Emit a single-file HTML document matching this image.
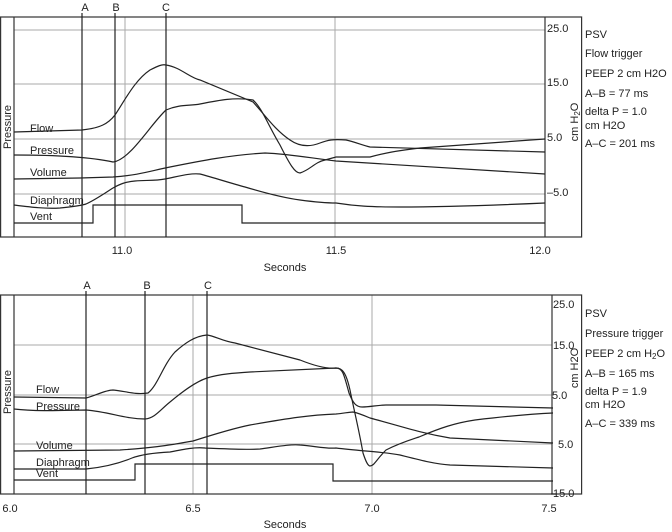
<!DOCTYPE html>
<html><head><meta charset="utf-8"><style>
body{margin:0;background:#fff;}
svg{display:block;font-family:"Liberation Sans",sans-serif;font-size:11px;fill:#222;}
.g{stroke:#aaa;stroke-width:1;fill:none}
.c{stroke:#222;stroke-width:1.2;fill:none}
.b{stroke:#333;stroke-width:1.2;fill:none}
</style></head><body>
<svg width="672" height="532" viewBox="0 0 672 532">
<!-- TOP PANEL -->
<line class="g" x1="14" y1="30" x2="545" y2="30"/>
<line class="g" x1="14" y1="84" x2="545" y2="84"/>
<line class="g" x1="14" y1="139" x2="545" y2="139"/>
<line class="g" x1="14" y1="194" x2="545" y2="194"/>
<line class="g" x1="125" y1="17" x2="125" y2="237"/>
<line class="g" x1="335" y1="17" x2="335" y2="237"/>
<rect class="b" x="0.6" y="17" width="581" height="220"/>
<line class="b" x1="14" y1="17" x2="14" y2="237"/>
<line class="b" x1="545" y1="17" x2="545" y2="237"/>
<text transform="translate(11,127) rotate(-90)" text-anchor="middle">Pressure</text>
<g class="c">
<line x1="82" y1="13" x2="82" y2="237"/><line x1="115" y1="13" x2="115" y2="237"/><line x1="166" y1="13" x2="166" y2="237"/>
<path d="M14,132 L82,130 C100,128 108,124 115,115 C125,100 135,80 150,70 C158,66 162,64 166,65 C180,67 190,78 200,80 L253,102 C265,115 275,130 290,140 C300,147 310,147 320,143 C328,140 333,139 346,140 C355,142 362,145 370,147 L545,152"/>
<path d="M14,155 C60,155 90,157 113,162 C130,160 150,125 166,110 C180,104 190,106 200,104 C220,100 235,97 253,100 C262,108 268,125 280,145 C290,165 295,173 300,173 C310,170 315,162 325,160 L336,157 L370,157 C385,153 395,151 420,148 L545,139"/>
<path d="M14,179 L80,178 L113,177 C140,175 150,171 170,167 C200,161 230,155 265,153 C290,154 310,158 336,161 L545,174"/>
<path d="M14,205 C30,207 45,209 60,208 C70,207 80,206 86,204 C95,200 105,193 113,188 C120,184 125,182 135,181 C145,180 155,181 165,179 C180,176 190,173 200,174 C215,178 230,183 245,187 C265,193 285,198 300,200 C315,202 325,203 336,203 C355,206 370,207 400,207 C450,207 500,205 545,203"/>
<path d="M14,223 L93,223 L93,205 L242,205 L242,223 L545,223"/>
</g>
<text x="30" y="132">Flow</text>
<text x="30" y="154">Pressure</text>
<text x="30" y="176">Volume</text>
<text x="30" y="204">Diaphragm</text>
<text x="30" y="220">Vent</text>
<text x="85" y="11" text-anchor="middle">A</text>
<text x="116" y="11" text-anchor="middle">B</text>
<text x="166" y="11" text-anchor="middle">C</text>
<text x="547" y="32">25.0</text>
<text x="547" y="86">15.0</text>
<text x="547" y="141">5.0</text>
<text x="547" y="196">–5.0</text>
<text transform="translate(578,122) rotate(-90)" text-anchor="middle">cm H<tspan font-size="8" dy="2">2</tspan><tspan dy="-2">O</tspan></text>
<text x="585" y="38">PSV</text>
<text x="585" y="57">Flow trigger</text>
<text x="585" y="77">PEEP 2 cm H2O</text>
<text x="585" y="97">A–B = 77 ms</text>
<text x="585" y="115">delta P = 1.0</text>
<text x="585" y="129">cm H2O</text>
<text x="585" y="147">A–C = 201 ms</text>
<text x="122" y="254" text-anchor="middle">11.0</text>
<text x="336" y="254" text-anchor="middle">11.5</text>
<text x="540" y="254" text-anchor="middle">12.0</text>
<text x="285" y="271" text-anchor="middle">Seconds</text>

<!-- BOTTOM PANEL -->
<line class="g" x1="14" y1="345" x2="552" y2="345"/>
<line class="g" x1="14" y1="395" x2="552" y2="395"/>
<line class="g" x1="14" y1="444" x2="552" y2="444"/>
<line class="g" x1="193" y1="295" x2="193" y2="494"/>
<line class="g" x1="372" y1="295" x2="372" y2="494"/>
<rect class="b" x="0.6" y="295" width="581" height="199"/>
<line class="b" x1="14" y1="295" x2="14" y2="494"/>
<line class="b" x1="552" y1="295" x2="552" y2="494"/>
<text transform="translate(11,392) rotate(-90)" text-anchor="middle">Pressure</text>
<g class="c">
<line x1="86" y1="291" x2="86" y2="494"/><line x1="145" y1="291" x2="145" y2="494"/><line x1="207" y1="291" x2="207" y2="494"/>
<path d="M14,397 L86,398 C95,396 105,390 113,390 C125,391 135,395 148,393 C158,385 163,365 175,352 C185,343 195,336 207,335 C215,336 222,341 235,343 L300,360 C315,366 328,369 336,368 C342,368 346,372 350,390 C354,410 359,430 363,453 C366,462 368,466 370,466 C374,466 376,460 386,450 C400,443 410,440 419,437 C440,428 455,423 475,420 C500,417 530,414 553,413"/>
<path d="M14,409 C40,412 70,410 86,410 C110,412 125,419 145,419 C155,418 160,410 170,402 C182,392 195,382 207,378 C220,374 235,373 250,372 L336,368 C343,368 344,375 349,393 C353,403 356,407 362,407 C370,407 378,405 386,405 L436,405 L553,408"/>
<path d="M14,451 L120,450 C150,448 165,446 193,441 C215,434 235,428 250,425 C290,418 310,415 336,414 C345,413 350,412 353,412 C358,413 363,415 370,418 C400,426 420,433 450,438 L553,443"/>
<path d="M14,469 L86,469 C105,467 120,463 132,458 C140,455 150,453 170,452 C185,449 195,447 205,448 C230,449 250,450 260,449 C275,447 290,444 300,445 C315,446 325,449 336,448 C360,451 385,452 400,455 C420,460 435,464 450,465 L553,468"/>
<path d="M14,480 L135,480 L135,464 L333,464 L333,481 L553,481"/>
</g>
<text x="36" y="393">Flow</text>
<text x="36" y="410">Pressure</text>
<text x="36" y="449">Volume</text>
<text x="36" y="466">Diaphragm</text>
<text x="36" y="477">Vent</text>
<text x="87" y="289" text-anchor="middle">A</text>
<text x="147" y="289" text-anchor="middle">B</text>
<text x="208" y="289" text-anchor="middle">C</text>
<text x="553" y="308">25.0</text>
<text x="553" y="349">15.0</text>
<text x="552" y="399">5.0</text>
<text x="558" y="448">5.0</text>
<text x="553" y="497">15.0</text>
<line class="c" x1="551" y1="494" x2="556" y2="494"/>
<text transform="translate(578,368) rotate(-90)" text-anchor="middle">cm H2O</text>
<text x="585" y="317">PSV</text>
<text x="585" y="337">Pressure trigger</text>
<text x="585" y="357">PEEP 2 cm H<tspan font-size="8" dy="2">2</tspan><tspan dy="-2">O</tspan></text>
<text x="585" y="377">A–B = 165 ms</text>
<text x="585" y="395">delta P = 1.9</text>
<text x="585" y="408">cm H2O</text>
<text x="585" y="427">A–C = 339 ms</text>
<text x="10" y="512" text-anchor="middle">6.0</text>
<text x="193" y="512" text-anchor="middle">6.5</text>
<text x="372" y="512" text-anchor="middle">7.0</text>
<text x="549" y="512" text-anchor="middle">7.5</text>
<text x="285" y="528" text-anchor="middle">Seconds</text>
</svg>
</body></html>
